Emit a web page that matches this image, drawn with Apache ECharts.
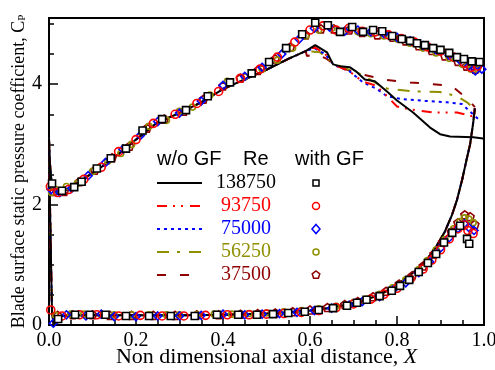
<!DOCTYPE html>
<html><head><meta charset="utf-8">
<script src="https://cdn.jsdelivr.net/npm/echarts@6/dist/echarts.min.js"></script>
<style>html,body{margin:0;padding:0;background:#fff}#c{width:495px;height:370px}</style>
</head><body><div id="c"></div>
<script>
// ---------- data ----------
const reLabels = ['138750', '93750', '75000', '56250', '37500'];
const xTicks = [0, 0.2, 0.4, 0.6, 0.8, 1.0];
const yTicks = [0, 2, 4];

// w/o GF lines: lower branch (trailing edge -> leading edge), shared by all Re
const lineLower = [[0.979,3.6],[0.975,3.35],[0.968,3.0],[0.96,2.75],[0.95,2.42],[0.938,2.08],[0.926,1.82],[0.91,1.55],[0.89,1.3],[0.87,1.1],[0.85,0.95],[0.82,0.77],[0.79,0.62],[0.76,0.5],[0.72,0.4],[0.68,0.33],[0.64,0.28],[0.6,0.24],[0.55,0.21],[0.5,0.19],[0.45,0.18],[0.4,0.17],[0.3,0.16],[0.2,0.16],[0.1,0.16],[0.05,0.16],[0.03,0.15],[0.018,0.08],[0.011,0.01],[0.007,0.2],[0.005,0.9],[0.003,1.7],[0.001,2.5],[0,3.1]];
// upper branch from leading edge to ~0.59, shared
const lineUpper = [[0.002,2.7],[0.006,2.35],[0.012,2.22],[0.025,2.2],[0.05,2.28],[0.08,2.43],[0.12,2.62],[0.16,2.84],[0.2,3.08],[0.25,3.37],[0.3,3.52],[0.35,3.7],[0.4,3.92],[0.45,4.08],[0.5,4.24],[0.55,4.42],[0.59,4.55]];
// upper-branch tails per Re
const tail138750 = [[0.612,4.65],[0.639,4.53],[0.653,4.33],[0.669,4.3],[0.692,4.28],[0.708,4.2],[0.726,4.08],[0.749,4.05],[0.777,3.88],[0.8,3.73],[0.837,3.53],[0.876,3.28],[0.899,3.17],[0.922,3.13],[0.975,3.12],[0.998,3.1]];
const tail93750 = [[0.61,4.62],[0.635,4.5],[0.655,4.32],[0.69,4.22],[0.72,4.05],[0.75,3.98],[0.768,3.87],[0.784,3.75],[0.8,3.63],[0.83,3.58],[0.883,3.53],[0.938,3.53],[0.972,3.47],[0.985,3.45]];
const tail75000 = [[0.61,4.6],[0.635,4.5],[0.655,4.32],[0.69,4.22],[0.722,4.03],[0.754,3.92],[0.777,3.8],[0.814,3.75],[0.869,3.72],[0.915,3.7],[0.949,3.67],[0.975,3.5],[0.99,3.4]];
const tail56250 = [[0.623,4.53],[0.645,4.4],[0.67,4.3],[0.715,4.17],[0.768,3.95],[0.777,3.93],[0.837,3.88],[0.899,3.87],[0.938,3.8],[0.961,3.7],[0.979,3.58]];
const tail37500 = [[0.593,4.47],[0.615,4.5],[0.639,4.42],[0.66,4.3],[0.715,4.17],[0.777,4.07],[0.83,4.03],[0.883,4.0],[0.926,3.97],[0.963,3.75],[0.979,3.62]];

// with GF markers
const gf138750 = [[0.007,2.35],[0.03,2.23],[0.058,2.29],[0.075,2.38],[0.11,2.6],[0.142,2.77],[0.177,2.93],[0.215,3.23],[0.26,3.42],[0.315,3.57],[0.365,3.8],[0.416,4.03],[0.466,4.18],[0.506,4.37],[0.545,4.6],[0.582,4.83],[0.612,5.02],[0.641,4.98],[0.669,4.87],[0.697,4.95],[0.722,4.87],[0.745,4.9],[0.766,4.88],[0.789,4.8],[0.811,4.75],[0.83,4.72],[0.846,4.68],[0.864,4.65],[0.883,4.6],[0.9,4.57],[0.92,4.52],[0.938,4.45],[0.954,4.42],[0.972,4.38],[0.99,4.37],
  [0.021,0.1],[0.06,0.17],[0.094,0.17],[0.13,0.17],[0.177,0.15],[0.23,0.15],[0.28,0.15],[0.335,0.15],[0.386,0.17],[0.435,0.17],[0.478,0.17],[0.515,0.18],[0.55,0.2],[0.588,0.22],[0.62,0.25],[0.653,0.28],[0.685,0.32],[0.708,0.37],[0.73,0.42],[0.76,0.48],[0.788,0.57],[0.807,0.65],[0.828,0.75],[0.85,0.88],[0.871,1.03],[0.89,1.18],[0.908,1.37],[0.927,1.53],[0.945,1.65],[0.961,1.43],[0.966,1.35]];
const gf93750 = [[0.003,2.3],[0.02,2.2],[0.045,2.25],[0.08,2.42],[0.12,2.62],[0.16,2.88],[0.2,3.08],[0.24,3.35],[0.29,3.5],[0.34,3.68],[0.39,3.88],[0.44,4.1],[0.485,4.25],[0.525,4.45],[0.565,4.7],[0.6,4.9],[0.63,4.97],[0.66,4.9],[0.69,4.93],[0.72,4.88],[0.75,4.87],[0.78,4.82],[0.81,4.76],[0.84,4.7],[0.87,4.62],[0.9,4.55],[0.93,4.45],[0.955,4.35],[0.97,4.28],[0.985,4.3],
  [0.004,0.25],[0.03,0.15],[0.07,0.17],[0.11,0.17],[0.16,0.15],[0.21,0.16],[0.26,0.15],[0.31,0.15],[0.36,0.16],[0.41,0.17],[0.46,0.17],[0.5,0.18],[0.54,0.19],[0.58,0.21],[0.62,0.24],[0.66,0.29],[0.7,0.35],[0.74,0.43],[0.77,0.51],[0.8,0.61],[0.83,0.76],[0.86,0.93],[0.88,1.08],[0.9,1.25],[0.92,1.43],[0.94,1.6],[0.955,1.66],[0.963,1.57],[0.975,1.52]];
const gf75000 = [[0.005,2.25],[0.025,2.2],[0.052,2.27],[0.09,2.48],[0.13,2.7],[0.17,2.92],[0.21,3.15],[0.25,3.38],[0.3,3.52],[0.35,3.72],[0.4,3.98],[0.45,4.13],[0.49,4.28],[0.535,4.5],[0.575,4.75],[0.61,4.93],[0.645,4.95],[0.68,4.88],[0.71,4.9],[0.74,4.87],[0.77,4.84],[0.8,4.78],[0.83,4.72],[0.86,4.64],[0.89,4.57],[0.92,4.48],[0.945,4.4],[0.965,4.3],[0.98,4.22],[0.995,4.25],
  [0.01,0.03],[0.04,0.17],[0.085,0.15],[0.12,0.18],[0.15,0.14],[0.2,0.14],[0.25,0.15],[0.3,0.15],[0.35,0.16],[0.4,0.18],[0.45,0.17],[0.49,0.18],[0.53,0.19],[0.57,0.21],[0.61,0.24],[0.65,0.28],[0.69,0.33],[0.72,0.39],[0.76,0.47],[0.79,0.58],[0.82,0.7],[0.85,0.87],[0.875,1.05],[0.9,1.28],[0.92,1.45],[0.94,1.6],[0.955,1.68],[0.965,1.62],[0.977,1.57]];
const gf56250 = [[0.006,2.2],[0.015,2.25],[0.04,2.3],[0.065,2.35],[0.1,2.55],[0.135,2.72],[0.165,2.85],[0.19,3.0],[0.23,3.3],[0.27,3.4],[0.3,3.55],[0.33,3.62],[0.37,3.82],[0.41,4.05],[0.45,4.12],[0.49,4.25],[0.525,4.4],[0.56,4.6],[0.59,4.8],[0.62,4.9],[0.65,4.93],[0.68,4.88],[0.71,4.87],[0.74,4.84],[0.77,4.8],[0.8,4.75],[0.83,4.68],[0.86,4.6],[0.89,4.52],[0.92,4.43],[0.95,4.33],[0.97,4.25],[0.985,4.25],
  [0.015,0.16],[0.05,0.18],[0.08,0.18],[0.12,0.17],[0.15,0.17],[0.19,0.17],[0.23,0.17],[0.27,0.17],[0.3,0.17],[0.34,0.17],[0.38,0.18],[0.42,0.18],[0.46,0.19],[0.5,0.2],[0.54,0.22],[0.58,0.24],[0.62,0.27],[0.66,0.31],[0.7,0.37],[0.73,0.43],[0.76,0.51],[0.79,0.62],[0.82,0.75],[0.85,0.92],[0.87,1.07],[0.89,1.25],[0.91,1.42],[0.93,1.6],[0.945,1.72],[0.955,1.78],[0.965,1.76],[0.975,1.7]];
const gf37500 = [[0.01,2.22],[0.035,2.22],[0.07,2.38],[0.105,2.57],[0.145,2.78],[0.185,2.97],[0.225,3.27],[0.265,3.42],[0.31,3.55],[0.355,3.75],[0.4,3.97],[0.44,4.1],[0.48,4.23],[0.52,4.42],[0.555,4.62],[0.59,4.82],[0.625,4.92],[0.655,4.92],[0.69,4.9],[0.72,4.86],[0.755,4.82],[0.79,4.78],[0.82,4.72],[0.85,4.64],[0.88,4.56],[0.91,4.47],[0.94,4.38],[0.96,4.3],[0.98,4.25],
  [0.02,0.16],[0.055,0.17],[0.1,0.17],[0.14,0.16],[0.19,0.16],[0.24,0.16],[0.29,0.16],[0.34,0.17],[0.39,0.17],[0.44,0.18],[0.48,0.19],[0.52,0.2],[0.56,0.22],[0.6,0.25],[0.64,0.29],[0.68,0.34],[0.71,0.39],[0.745,0.47],[0.775,0.56],[0.805,0.68],[0.835,0.82],[0.86,0.98],[0.885,1.18],[0.905,1.38],[0.925,1.55],[0.94,1.7],[0.956,1.83],[0.968,1.8],[0.979,1.67]];

// ---------- styling ----------
const colors = ['#000000', '#ff0000', '#0000ff', '#8f8f00', '#900000'];
const dashes = ['solid', [10,6,2,6,2,7], [3,4], [12,8,3,9], [9,14]];
const tails = [tail138750, tail93750, tail75000, tail56250, tail37500];
const gfData = [gf138750, gf93750, gf75000, gf56250, gf37500];
const pentagon = 'path://M0,-1L0.951,-0.309L0.588,0.809L-0.588,0.809L-0.951,-0.309Z';
const symbols = ['rect', 'circle', 'diamond', 'circle', pentagon];
const symSizes = [7, 8, 8, 6, 8];
const serif = '"Liberation Serif","Times New Roman",serif';
const sans = '"Liberation Sans",Arial,sans-serif';

const series = [];
for (let i = 4; i >= 0; i--) {
  series.push({
    type: 'line', name: reLabels[i], data: lineLower.concat(lineUpper, tails[i]),
    showSymbol: false, symbol: 'none', smooth: false, animation: false, z: 2,
    lineStyle: { color: colors[i], width: 2, type: dashes[i] }
  });
}
for (let i = 4; i >= 0; i--) {
  series.push({
    type: 'scatter', name: 'GF ' + reLabels[i], data: gfData[i], animation: false, z: 3 + (4 - i),
    symbol: symbols[i], symbolSize: symSizes[i],
    itemStyle: { color: i === 0 ? '#ffffff' : 'rgba(0,0,0,0)', borderColor: colors[i], borderWidth: 1.6, opacity: 1 }
  });
}

// legend drawn as graphic block
const graphic = [];
const legX = 157, rowY0 = 183, rowDy = 23;
graphic.push({ type: 'text', left: legX, top: 149, style: { text: 'w/o GF', font: '20px ' + sans, fill: '#000' } });
graphic.push({ type: 'text', left: 243, top: 149, style: { text: 'Re', font: '20px ' + sans, fill: '#000' } });
graphic.push({ type: 'text', left: 295, top: 149, style: { text: 'with GF', font: '20px ' + sans, fill: '#000' } });
for (let i = 0; i < 5; i++) {
  const y = rowY0 + i * rowDy;
  graphic.push({ type: 'line', shape: { x1: legX, y1: y, x2: legX + 45, y2: y },
    style: { stroke: colors[i], lineWidth: 2, lineDash: dashes[i] === 'solid' ? null : dashes[i] } });
  graphic.push({ type: 'text', x: 246, y: y, style: { text: reLabels[i], font: '20px ' + serif, fill: colors[i], align: 'center', verticalAlign: 'middle' } });
  const mx = 316;
  let shape;
  if (i === 0) shape = { type: 'rect', shape: { x: mx - 3, y: y - 3, width: 6, height: 6 }, style: { stroke: '#000', fill: '#fff', lineWidth: 1.5 } };
  else if (i === 1) shape = { type: 'circle', shape: { cx: mx, cy: y, r: 3.5 }, style: { stroke: colors[i], fill: 'none', lineWidth: 1.5 } };
  else if (i === 2) shape = { type: 'polygon', shape: { points: [[mx, y - 4.5], [mx + 4, y], [mx, y + 4.5], [mx - 4, y]] }, style: { stroke: colors[i], fill: 'none', lineWidth: 1.5 } };
  else if (i === 3) shape = { type: 'circle', shape: { cx: mx, cy: y, r: 3 }, style: { stroke: colors[i], fill: 'none', lineWidth: 1.5 } };
  else shape = { type: 'polygon', shape: { points: [[mx, y - 4], [mx + 3.8, y - 1.2], [mx + 2.4, y + 3.3], [mx - 2.4, y + 3.3], [mx - 3.8, y - 1.2]] }, style: { stroke: colors[i], fill: 'none', lineWidth: 1.5 } };
  graphic.push(shape);
}

const chart = echarts.init(document.getElementById('c'), null, { renderer: 'canvas' });
chart.setOption({
  backgroundColor: '#fff',
  animation: false,
  grid: { left: 49, right: 11, top: 18, bottom: 45, show: true, borderColor: '#000', borderWidth: 2, backgroundColor: 'transparent', containLabel: false, outerBoundsMode: 'none' },
  xAxis: {
    type: 'value', min: 0, max: 1, interval: 0.2,
    axisLine: { show: true, lineStyle: { color: '#000', width: 2 } },
    axisTick: { show: true, inside: true, length: 9, lineStyle: { color: '#000', width: 1.5 } },
    minorTick: { show: true, splitNumber: 4, length: 5, lineStyle: { color: '#000', width: 1.5 } },
    splitLine: { show: false },
    axisLabel: { color: '#000', fontFamily: serif, fontSize: 20, margin: 6, formatter: v => xTicks.some(t => Math.abs(t - v) < 1e-9) ? v.toFixed(1) : '' },
    name: 'Non dimensional axial distance, {i|X}', nameLocation: 'middle', nameGap: 21, nameMoveOverlap: false,
    nameTextStyle: { color: '#000', fontFamily: serif, fontSize: 22, rich: { i: { fontFamily: serif, fontSize: 22, fontStyle: 'italic', color: '#000' } } }
  },
  yAxis: [{
    type: 'value', min: 0, max: 5.1, interval: 0.5,
    axisLine: { show: true, lineStyle: { color: '#000', width: 2 } },
    axisTick: { show: true, inside: true, length: 5, lineStyle: { color: '#000', width: 1.5 } },
    splitLine: { show: false }, axisLabel: { show: false }
  }, {
    type: 'value', min: 0, max: 5.1, interval: 2, position: 'left',
    axisLine: { show: false },
    axisTick: { show: true, inside: true, length: 9, lineStyle: { color: '#000', width: 1.5 } },
    splitLine: { show: false },
    axisLabel: { color: '#000', fontFamily: serif, fontSize: 20, margin: 7, showMaxLabel: false, formatter: v => yTicks.indexOf(v) >= 0 ? String(v) : '' },
    name: 'Blade surface static pressure coefficient, C{s|P}', nameLocation: 'middle', nameGap: 21, nameRotate: 90, nameMoveOverlap: false,
    nameTextStyle: { color: '#000', fontFamily: serif, fontSize: 18, rich: { s: { fontFamily: serif, fontSize: 11, color: '#000', verticalAlign: 'bottom', padding: [6, 0, 0, 0] } } }
  }],
  series: series,
  graphic: graphic
});
</script></body></html>
